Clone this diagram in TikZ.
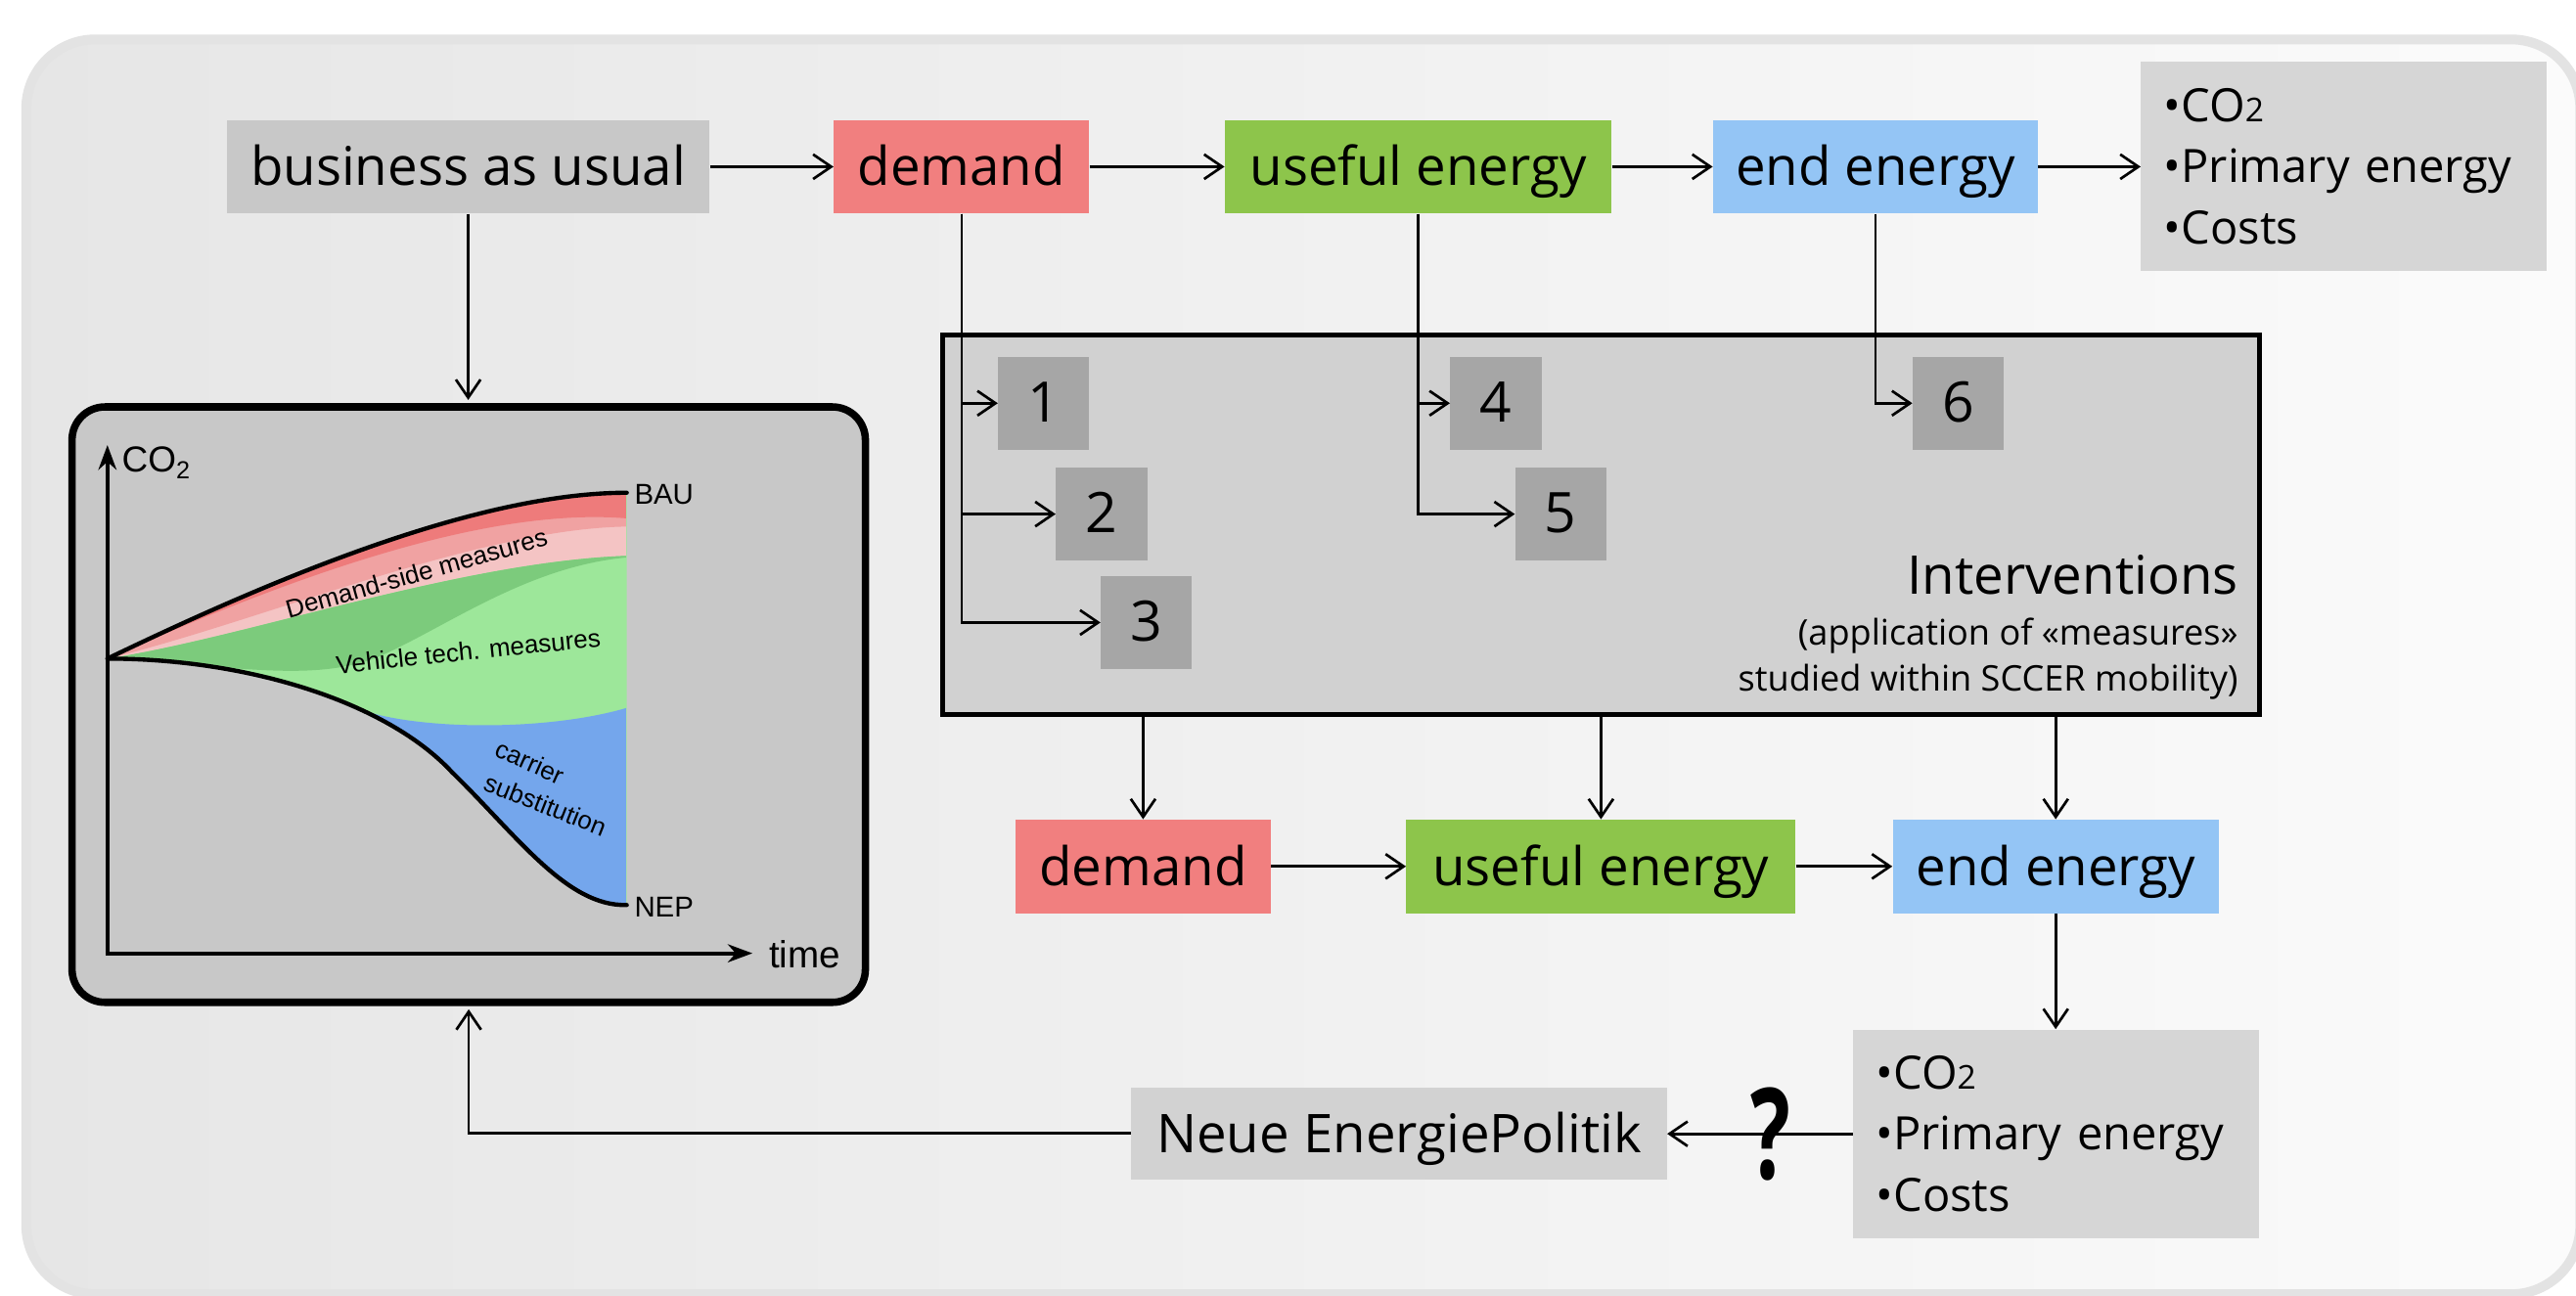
\documentclass[tikz,border=0pt]{standalone}
\usepackage{fontspec}
\setmainfont{Open Sans}
\newfontfamily\chartfont{Liberation Sans}
\usetikzlibrary{arrows.meta}

\definecolor{bgL}{HTML}{E6E6E6}
\definecolor{bgR}{HTML}{FBFBFB}
\definecolor{bgEdge}{HTML}{E3E3E3}
\definecolor{bauGrey}{HTML}{C8C8C8}
\definecolor{demRed}{HTML}{F17F7F}
\definecolor{useGreen}{HTML}{8DC54B}
\definecolor{endBlue}{HTML}{94C5F5}
\definecolor{resGrey}{HTML}{D6D6D6}
\definecolor{intGrey}{HTML}{D1D1D1}
\definecolor{numGrey}{HTML}{A6A6A6}
\definecolor{chartGrey}{HTML}{C8C8C8}
\definecolor{redA}{HTML}{EE7B7B}
\definecolor{redB}{HTML}{F0A2A2}
\definecolor{pinkC}{HTML}{F4C4C4}
\definecolor{greenD}{HTML}{7CCB7C}
\definecolor{greenL}{HTML}{9DE79A}
\definecolor{blueS}{HTML}{74A6EC}

\newcommand{\bigfont}{\fontsize{32.5}{39}\selectfont}
\newcommand{\resfont}{\fontsize{28}{37.3}\selectfont}
\newcommand{\subtwo}{{\fontsize{20}{20}\selectfont 2}}

\begin{document}
\begin{tikzpicture}[x=1pt,y=-1pt,
  flowbox/.style={font=\bigfont, inner sep=0, minimum height=57,
    text height=26.6, text depth=3.4},
  numbox/.style={fill=numGrey, minimum width=55.5, minimum height=56.5, inner sep=0,
    font=\fontsize{34}{40}\selectfont, text height=26.5, text depth=3.5},
  resbox/.style={fill=resGrey, minimum width=247, minimum height=127, inner sep=0,
    text width=219, align=left, font=\resfont},
  flow/.style={line width=1.6pt, -{Straight Barb[length=11pt, width=15pt]}},
  axis/.style={line width=2.3pt, {Stealth[length=15pt, width=11pt]}-{Stealth[length=15pt, width=11pt]}},
  curve/.style={line width=2.6pt, line cap=round},
  chtext/.style={font=\chartfont\fontsize{15.5}{18}\selectfont, inner sep=0},
  intnote/.style={anchor=base east, inner sep=0, font=\fontsize{21.5}{26}\selectfont},
]
\useasboundingbox (0,0) rectangle (1568,789);
\fill[white] (0,0) rectangle (1568,789);

% soft rounded backdrop
\path[draw=bgEdge, line width=6pt, left color=bgL, right color=bgR, rounded corners=42pt]
  (16,24) rectangle (1570.6,788);

% ---------- top flow ----------
\node[flowbox, fill=bauGrey, minimum width=294] (bau) at (285,101.5) {business as usual};
\node[flowbox, fill=demRed, minimum width=155.5] (dem1) at (585.3,101.5) {demand};
\node[flowbox, fill=useGreen, minimum width=235.5] (use1) at (863.3,101.5) {useful energy};
\node[flowbox, fill=endBlue, minimum width=197.6] (end1) at (1141.5,101.5) {end energy};
\node[resbox] (res1) at (1426.7,101.25) {•CO\subtwo\\•Primary energy\\•Costs};

% ---------- interventions ----------
\node[draw=black, line width=3pt, fill=intGrey, minimum width=802, minimum height=231, inner sep=0]
  (inter) at (974.5,319.5) {};
\node[numbox] (n1) at (635.3,245.5) {1};
\node[numbox] (n2) at (670.5,313) {2};
\node[numbox] (n3) at (697.8,379) {3};
\node[numbox] (n4) at (910.5,245.5) {4};
\node[numbox] (n5) at (950,313) {5};
\node[numbox] (n6) at (1192,245.5) {6};
\node[anchor=base east, inner sep=0, font=\bigfont] (intA) at (1362.5,362) {Interventions};
\node[intnote] (intB) at (1362.5,393) {(application of «measures»};
\node[intnote] (intC) at (1362.5,421) {studied within SCCER mobility)};

% ---------- bottom flow ----------
\node[flowbox, fill=demRed, minimum width=155.5] (dem2) at (695.8,527.5) {demand};
\node[flowbox, fill=useGreen, minimum width=237] (use2) at (974.5,527.5) {useful energy};
\node[flowbox, fill=endBlue, minimum width=198.5] (end2) at (1251.3,527.5) {end energy};
\node[resbox] (res2) at (1251.5,690.3) {•CO\subtwo\\•Primary energy\\•Costs};
\node[flowbox, fill=resGrey!98!black, minimum width=326, minimum height=56] (neue) at (851.6,690) {Neue EnergiePolitik};

% ---------- CO2 pathway chart ----------
\node[draw=black, line width=4.5pt, fill=chartGrey, rounded corners=20pt,
  minimum width=482.9, minimum height=362.5, inner sep=0] (chart) at (285.3,429) {};

\coordinate (S) at (65.4,401);
\coordinate (B) at (381.5,300);
\coordinate (N) at (381.5,551);
\begin{scope}
  \clip (S) .. controls (165,353) and (290,300) .. (B) -- (N)
    .. controls (345,552) and (315,509) .. (275,470)
    .. controls (235,427) and (150,401) .. (S) -- cycle;
  \fill[greenL] (40,280) rectangle (400,600);
  \fill[pinkC] (S) .. controls (165,353) and (290,300) .. (B) -- (381.5,338.4)
    .. controls (280,342) and (150,388) .. (S) -- cycle;
  \fill[redB] (S) .. controls (165,353) and (290,300) .. (B) -- (381.5,320.6)
    .. controls (290,322) and (160,378) .. (S) -- cycle;
  \fill[redA] (S) .. controls (165,353) and (290,300) .. (B) -- (381.5,315.6)
    .. controls (290,308) and (165,357) .. (S) -- cycle;
  \fill[greenD] (S) .. controls (150,388) and (280,342) .. (381.5,338.4) -- (381.5,339.4)
    .. controls (320,345) and (270,383) .. (230,400)
    .. controls (190,416) and (140,405) .. (S) -- cycle;
  \fill[blueS] (218.4,431.5) .. controls (250,444) and (330,446) .. (381.5,431)
    -- (381.5,600) -- (218.4,600) -- cycle;
\end{scope}
\draw[curve] (S) .. controls (165,353) and (290,300) .. (B);
\draw[curve] (S) .. controls (150,401) and (235,427) .. (275,470)
  .. controls (315,509) and (345,552) .. (N);

\coordinate (origin) at (65.4,580.4);
\draw[axis] (65.4,271) -- (origin) -- (458,580.4);

\node[anchor=base west, inner sep=0, font=\chartfont\fontsize{22}{26}\selectfont] (co2) at (74,287.6)
  {CO\raisebox{-4pt}{\fontsize{15}{15}\selectfont 2}};
\node[anchor=base west, inner sep=0, font=\chartfont\fontsize{23}{27}\selectfont] (timeL) at (468,589) {time};
\node[anchor=base west, inner sep=0, font=\chartfont\fontsize{17.5}{21}\selectfont] (bauL) at (386,307) {BAU};
\node[anchor=base west, inner sep=0, font=\chartfont\fontsize{17.5}{21}\selectfont] (nepL) at (386,558) {NEP};
\node[chtext, rotate=15.7] (dsm) at (253.5,348.8) {Demand-side measures};
\node[chtext, rotate=6] (vtm) at (285,396.4) {Vehicle tech. measures};
\node[chtext, rotate=-24] (csA) at (322.6,464) {carrier};
\node[chtext, rotate=-21.5] (csB) at (332,490) {substitution};

% ---------- connectors ----------
\draw[flow] (bau) -- (dem1);
\draw[flow] (dem1) -- (use1);
\draw[flow] (use1) -- (end1);
\draw[flow] (end1.east) -- (end1.east -| res1.west);
\draw[flow, shorten >=2pt] (bau.south) -- (bau.south |- chart.north);

\draw[flow] (dem1.south) |- (n1.west);
\draw[flow] (dem1.south) |- (n2.west);
\draw[flow] (dem1.south) |- (n3.west);
\draw[flow] (use1.south) |- (n4.west);
\draw[flow] (use1.south) |- (n5.west);
\draw[flow] (end1.south) |- (n6.west);

\draw[flow] (inter.south -| dem2.north) -- (dem2.north);
\draw[flow] (inter.south -| use2.north) -- (use2.north);
\draw[flow] (inter.south -| end2.north) -- (end2.north);
\draw[flow] (dem2) -- (use2);
\draw[flow] (use2) -- (end2);
\draw[flow] (end2.south) -- (end2.south |- res2.north);
\draw[flow] (res2.west) -- (res2.west -| neue.east);
\draw[flow, shorten >=2pt] (neue.west) -| (chart.south);

\node[inner sep=0, font=\fontsize{77}{77}\selectfont\bfseries] (qm) at (1077.5,690.5)
  {\scalebox{0.66}[1]{?}};
\end{tikzpicture}
\end{document}
